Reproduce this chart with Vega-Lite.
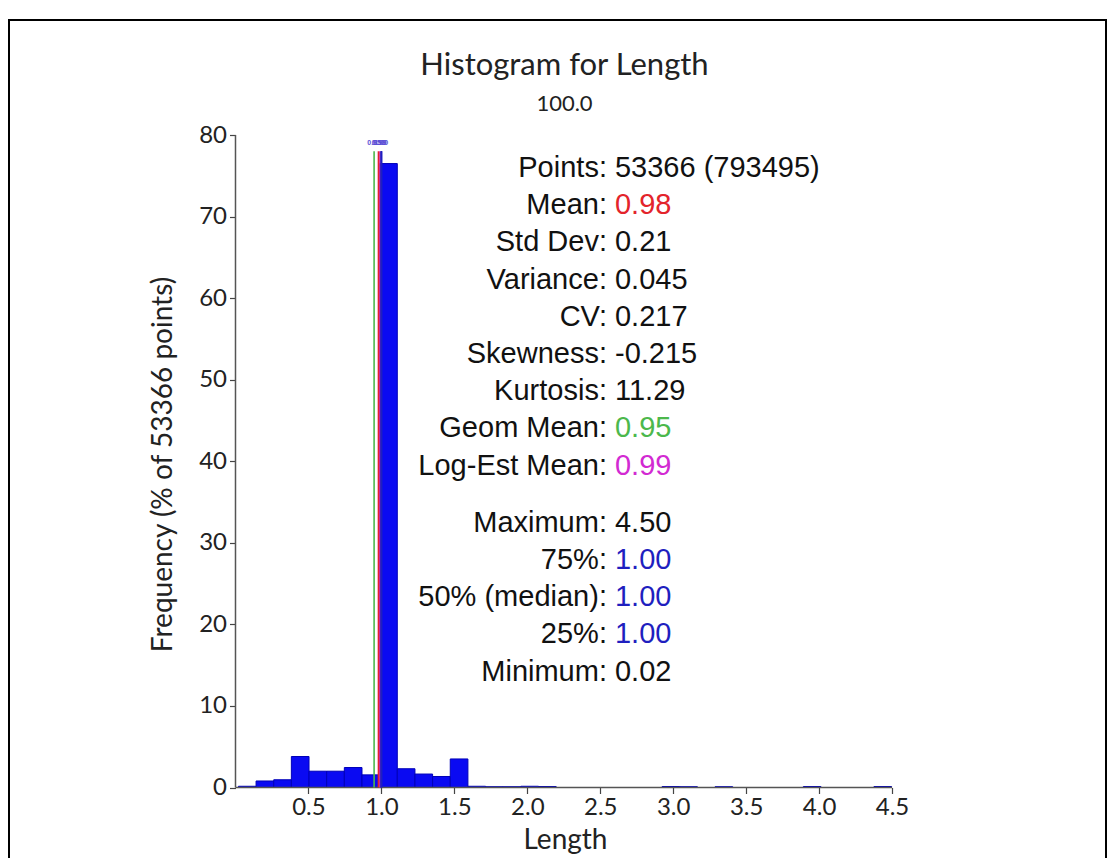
{
  "$schema": "https://vega.github.io/schema/vega-lite/v6.json",
  "width": 1097,
  "height": 840,
  "autosize": {"type": "none"},
  "padding": {"left": 9, "top": 20, "right": 6, "bottom": 0},
  "background": "white",
  "config": {
    "view": {"stroke": "#000000", "strokeWidth": 2},
    "axis": {
      "domain": false,
      "grid": false,
      "tickColor": "#444444",
      "tickSize": 6,
      "tickWidth": 1.2,
      "labelFont": "Lato",
      "labelFontSize": 24,
      "labelColor": "#222222",
      "titleFont": "Lato",
      "titleFontSize": 28,
      "titleFontWeight": "normal",
      "titleColor": "#222222"
    }
  },
  "title": {
    "text": "Histogram for Length",
    "subtitle": "100.0",
    "anchor": "middle",
    "frame": "group",
    "dx": 7,
    "offset": -96,
    "font": "Lato",
    "fontSize": 31,
    "fontWeight": "normal",
    "color": "#222222",
    "subtitleFont": "Lato",
    "subtitleFontSize": 22,
    "subtitleColor": "#222222",
    "subtitlePadding": 12
  },
  "datasets": {
    "bins": [
      {"bin_start": 0.020, "bin_end": 0.141, "pct": 0.15},
      {"bin_start": 0.141, "bin_end": 0.262, "pct": 0.8},
      {"bin_start": 0.262, "bin_end": 0.383, "pct": 0.95},
      {"bin_start": 0.383, "bin_end": 0.504, "pct": 3.8},
      {"bin_start": 0.504, "bin_end": 0.625, "pct": 2.0},
      {"bin_start": 0.625, "bin_end": 0.746, "pct": 2.0},
      {"bin_start": 0.746, "bin_end": 0.867, "pct": 2.45},
      {"bin_start": 0.867, "bin_end": 0.988, "pct": 1.55},
      {"bin_start": 0.988, "bin_end": 1.109, "pct": 76.5},
      {"bin_start": 1.109, "bin_end": 1.230, "pct": 2.3},
      {"bin_start": 1.230, "bin_end": 1.351, "pct": 1.65},
      {"bin_start": 1.351, "bin_end": 1.472, "pct": 1.35},
      {"bin_start": 1.472, "bin_end": 1.593, "pct": 3.5},
      {"bin_start": 1.593, "bin_end": 1.714, "pct": 0.15},
      {"bin_start": 1.714, "bin_end": 1.835, "pct": 0.1},
      {"bin_start": 1.835, "bin_end": 1.956, "pct": 0.1},
      {"bin_start": 1.956, "bin_end": 2.077, "pct": 0.15},
      {"bin_start": 2.077, "bin_end": 2.198, "pct": 0.12},
      {"bin_start": 2.924, "bin_end": 3.045, "pct": 0.12},
      {"bin_start": 3.045, "bin_end": 3.166, "pct": 0.1},
      {"bin_start": 3.287, "bin_end": 3.408, "pct": 0.1},
      {"bin_start": 3.892, "bin_end": 4.013, "pct": 0.12},
      {"bin_start": 4.376, "bin_end": 4.497, "pct": 0.12}
    ],
    "markers": [
      {"stat": "Geom Mean", "value": 0.95, "kind": "geom"},
      {"stat": "Log-Est Mean", "value": 0.99, "kind": "logest"},
      {"stat": "75%", "value": 1.0, "kind": "quantile"},
      {"stat": "50% (median)", "value": 1.0, "kind": "quantile"},
      {"stat": "25%", "value": 1.0, "kind": "quantile"},
      {"stat": "Mean", "value": 0.98, "kind": "mean"}
    ],
    "stats": [
      {"line": 0, "section": 1, "label": "Points:", "value": "53366 (793495)", "kind": "plain"},
      {"line": 1, "section": 1, "label": "Mean:", "value": "0.98", "kind": "mean"},
      {"line": 2, "section": 1, "label": "Std Dev:", "value": "0.21", "kind": "plain"},
      {"line": 3, "section": 1, "label": "Variance:", "value": "0.045", "kind": "plain"},
      {"line": 4, "section": 1, "label": "CV:", "value": "0.217", "kind": "plain"},
      {"line": 5, "section": 1, "label": "Skewness:", "value": "-0.215", "kind": "plain"},
      {"line": 6, "section": 1, "label": "Kurtosis:", "value": "11.29", "kind": "plain"},
      {"line": 7, "section": 1, "label": "Geom Mean:", "value": "0.95", "kind": "geom"},
      {"line": 8, "section": 1, "label": "Log-Est Mean:", "value": "0.99", "kind": "logest"},
      {"line": 9, "section": 2, "label": "Maximum:", "value": "4.50", "kind": "plain"},
      {"line": 10, "section": 2, "label": "75%:", "value": "1.00", "kind": "quantile"},
      {"line": 11, "section": 2, "label": "50% (median):", "value": "1.00", "kind": "quantile"},
      {"line": 12, "section": 2, "label": "25%:", "value": "1.00", "kind": "quantile"},
      {"line": 13, "section": 2, "label": "Minimum:", "value": "0.02", "kind": "plain"}
    ]
  },
  "layer": [
    {
      "layer": [
        {
          "data": {"name": "bins"},
          "mark": {"type": "bar", "color": "#0a0af2", "stroke": "#0000b8", "strokeWidth": 1},
          "encoding": {
            "x": {
              "field": "bin_start",
              "type": "quantitative",
              "scale": {"domain": [-1.5524, 5.9665], "nice": false, "zero": false},
              "axis": {
                "values": [0.5, 1.0, 1.5, 2.0, 2.5, 3.0, 3.5, 4.0, 4.5],
                "format": ".1f",
                "offset": -72.5,
                "labelPadding": 2,
                "title": "Length",
                "titleX": 556,
                "titleY": 61,
                "titleBaseline": "alphabetic",
                "titleAnchor": null
              }
            },
            "x2": {"field": "bin_end"},
            "y": {
              "field": "pct",
              "type": "quantitative",
              "scale": {"domain": [-8.889, 94.103], "nice": false, "zero": false},
              "axis": {
                "values": [0, 10, 20, 30, 40, 50, 60, 70, 80],
                "offset": -226.5,
                "labelPadding": 3,
                "title": "Frequency (% of 53366 points)",
                "titleX": -72,
                "titleY": 444,
                "titleAngle": -90,
                "titleAlign": "center",
                "titleBaseline": "middle",
                "titleAnchor": null
              }
            },
            "y2": {"datum": 0}
          }
        },
        {
          "data": {"values": [{}]},
          "mark": {"type": "rule", "color": "#555555", "strokeWidth": 1.5},
          "encoding": {
            "x": {"datum": 0},
            "x2": {"datum": 4.5},
            "y": {"datum": 0}
          }
        },
        {
          "data": {"values": [{}]},
          "mark": {"type": "rule", "color": "#555555", "strokeWidth": 1.5},
          "encoding": {
            "x": {"datum": 0},
            "y": {"datum": 0},
            "y2": {"datum": 80}
          }
        },
        {
          "data": {"name": "markers"},
          "mark": {"type": "rule", "strokeWidth": 1.6},
          "encoding": {
            "x": {"field": "value", "type": "quantitative"},
            "y": {"datum": 0},
            "y2": {"datum": 78},
            "color": {
              "field": "kind",
              "type": "nominal",
              "scale": {
                "domain": ["plain", "mean", "geom", "logest", "quantile"],
                "range": ["#111111", "#e3242b", "#4cb84c", "#d22ad2", "#1f1fbf"]
              },
              "legend": null
            }
          }
        },
        {
          "data": {"name": "markers"},
          "transform": [{"filter": "datum.stat != '75%' && datum.stat != '25%'"}],
          "mark": {"type": "text", "font": "Liberation Sans", "fontSize": 7, "fontWeight": "bold", "color": "#5b4fd6", "align": "center", "baseline": "middle"},
          "encoding": {
            "x": {"field": "value", "type": "quantitative"},
            "y": {"datum": 79},
            "text": {"field": "value", "type": "quantitative", "format": ".2f"}
          }
        }
      ]
    },
    {
      "data": {"name": "stats"},
      "layer": [
        {
          "transform": [{"filter": "datum.section == 1"}],
          "mark": {"type": "text", "font": "Liberation Sans", "fontSize": 29, "align": "right", "baseline": "middle", "color": "#111111"},
          "encoding": {
            "x": {"datum": 2.546},
            "y": {"field": "line", "type": "quantitative", "scale": {"domain": [0, 13], "range": [148, 631.6], "nice": false, "zero": false}, "axis": null},
            "text": {"field": "label"}
          }
        },
        {
          "transform": [{"filter": "datum.section == 1"}],
          "mark": {"type": "text", "font": "Liberation Sans", "fontSize": 29, "align": "left", "baseline": "middle"},
          "encoding": {
            "x": {"datum": 2.601},
            "y": {"field": "line", "type": "quantitative", "axis": null},
            "text": {"field": "value"},
            "color": {"field": "kind", "type": "nominal", "legend": null}
          }
        },
        {
          "transform": [{"filter": "datum.section == 2"}],
          "mark": {"type": "text", "font": "Liberation Sans", "fontSize": 29, "align": "right", "baseline": "middle", "color": "#111111", "dy": 20},
          "encoding": {
            "x": {"datum": 2.546},
            "y": {"field": "line", "type": "quantitative", "axis": null},
            "text": {"field": "label"}
          }
        },
        {
          "transform": [{"filter": "datum.section == 2"}],
          "mark": {"type": "text", "font": "Liberation Sans", "fontSize": 29, "align": "left", "baseline": "middle", "dy": 20},
          "encoding": {
            "x": {"datum": 2.601},
            "y": {"field": "line", "type": "quantitative", "axis": null},
            "text": {"field": "value"},
            "color": {"field": "kind", "type": "nominal", "legend": null}
          }
        }
      ]
    }
  ],
  "resolve": {"scale": {"y": "independent", "color": "shared"}},
  "encoding": {}
}
